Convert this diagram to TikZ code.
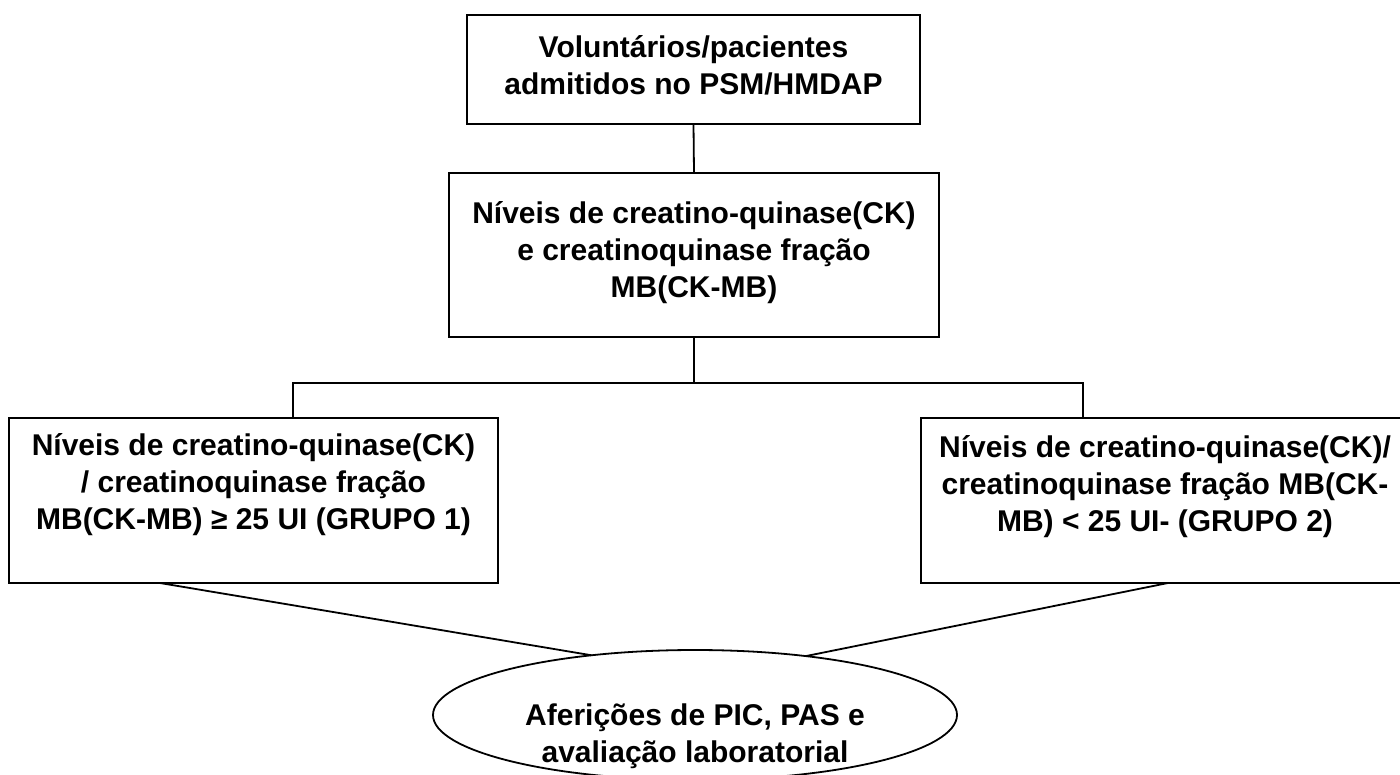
\documentclass[tikz,border=0pt]{standalone}
\usepackage{fontspec}
\setmainfont{Liberation Sans}
\usetikzlibrary{shapes.geometric,calc}
\newcommand{\bxt}[4]{\parbox[c][#2][t]{#1}{\centering\rule{0pt}{#3}#4}}
\begin{document}
\begin{tikzpicture}[x=1pt,y=-1pt,
  line width=1.8pt,
  box/.style={draw, rectangle, inner sep=0pt, outer sep=0pt},
  ellbox/.style={draw, ellipse, inner sep=0pt, outer sep=0pt, minimum width=524pt, minimum height=130pt},
  font=\fontsize{30}{37}\selectfont\bfseries]
\useasboundingbox (0,0) rectangle (1400,774);

\node[box] (top) at (693.5,69.5) {\bxt{453pt}{109pt}{42pt}{Voluntários/pacientes\\admitidos no PSM/HMDAP}};
\node[box] (ck) at (694,255) {\bxt{490pt}{164pt}{50pt}{Níveis de creatino-quinase(CK)\\e creatinoquinase fração\\MB(CK-MB)}};
\node[box] (g1) at (253.5,500.5) {\bxt{489pt}{165pt}{37pt}{Níveis de creatino-quinase(CK)\\/ creatinoquinase fração\\MB(CK-MB) ≥ 25 UI (GRUPO 1)}};
\node[box] (g2) at (1165,500.5) {\bxt{488pt}{165pt}{39pt}{Níveis de creatino-quinase(CK)/\\creatinoquinase fração MB(CK-\\MB) < 25 UI- (GRUPO 2)}};
\node[ellbox] (ell) at (695,715) {\parbox[c][80pt][t]{300pt}{\centering\rule{0pt}{50pt}\makebox[0pt]{Aferições de PIC, PAS e}\\\makebox[0pt]{avaliação laboratorial}}};

\coordinate (jl) at (293,383);
\coordinate (jr) at (1083,383);

\draw (top.south) -- (ck.north);
\draw (ck.south) -- (ck.south |- jl);
\draw (jl |- g1.north) -- (jl) -- (jr) -- (jr |- g2.north);
\draw ([xshift=151pt]g1.south west) -- (ell.150);
\draw ([xshift=247pt]g2.south west) -- (ell.28);
\end{tikzpicture}
\end{document}
